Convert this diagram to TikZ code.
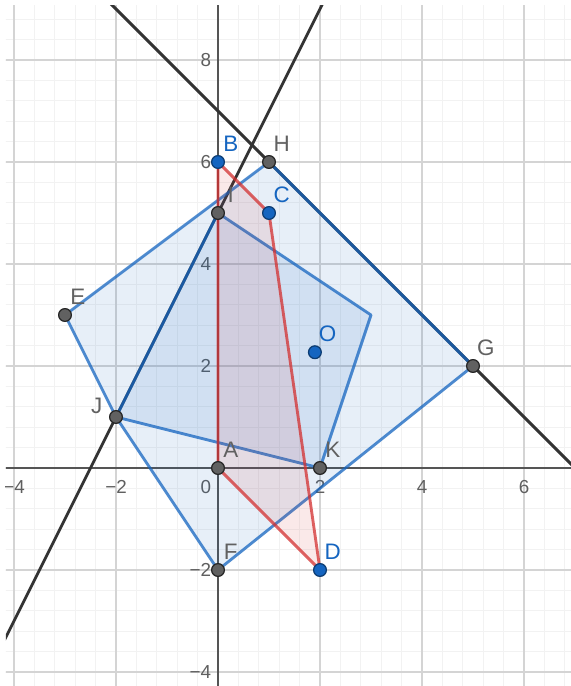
\documentclass[tikz,border=0pt]{standalone}
\usepackage{fontspec}
\setmainfont{Liberation Sans}
\usetikzlibrary{calc}
\definecolor{ggblue}{RGB}{21,101,192}
\definecolor{ggred}{RGB}{211,47,47}
\definecolor{gggray}{RGB}{97,97,97}
\definecolor{ggline}{RGB}{51,51,51}
\definecolor{ggaxis}{RGB}{85,85,85}
\definecolor{ggtext}{RGB}{95,95,95}
\begin{document}
\begin{tikzpicture}[line join = round, line cap = round,
		minorgrid/.style={draw=black!5, line width=0.5pt},
		majorgrid/.style={draw=black!17, line width=0.6pt},
		axisline/.style={draw=ggaxis, line width=0.8pt},
		ticklab/.style={text=ggtext, font=\fontsize{10.5}{11}\selectfont, inner sep=0pt},
		blackline/.style={draw=ggline, line width=1.6pt},
		bluepoly/.style={draw=ggblue, draw opacity=0.75, fill=ggblue, fill opacity=0.1, line width=1.6pt},
		redpoly/.style={draw=ggred, draw opacity=0.75, fill=ggred, fill opacity=0.1, line width=1.6pt},
		graypt/.style={circle, fill=gggray, draw=black!85, line width=0.7pt, inner sep=0pt, minimum size=0.25cm},
		bluept/.style={circle, fill=ggblue, draw=ggblue!60!black, line width=0.7pt, inner sep=0pt, minimum size=0.25cm},
		graylab/.style={text=gggray, font=\fontsize{12.5}{13}\selectfont, inner sep=0pt},
		bluelab/.style={text=ggblue, font=\fontsize{12.5}{13}\selectfont, inner sep=0pt}]
	\useasboundingbox[fill=white] (-4.2745,-4.2745) rectangle (6.9216,9.1765);
	% points
	\coordinate (A) at (0,0);
	\coordinate (B) at (0,6);
	\coordinate (C) at (1,5);
	\coordinate (D) at (2,-2);
	\coordinate (E) at (-3,3);
	\coordinate (F) at (0,-2);
	\coordinate (G) at (5,2);
	\coordinate (H) at (1,6);
	\coordinate (I) at (0,5);
	\coordinate (J) at (-2,1);
	\coordinate (K) at (2,0);
	\coordinate (O) at (1.9,2.27);
	\coordinate (P) at (3,3);
	\begin{scope}
		\clip (-4.157,-4.2745) rectangle (6.9216,9.078);
		\draw[minorgrid, step=0.4] (-4.4,-4.4) grid (7.2,9.2);
		\draw[majorgrid, step=2] (-4.4,-4.4) grid (7.2,9.2);
		\draw[axisline] (-4.4,0) -- (7.2,0);
		\draw[axisline] (0,-4.4) -- (0,9.2);
		\foreach \x/\t [count=\i] in {-4/−4,-2/−2,2/2,4/4,6/6}
			\node[ticklab] (xtick\i) at (\x,-0.37) {\t};
		\foreach \y/\t [count=\i] in {8/8,6/6,4/4,2/2,-2/−2,-4/−4}
			\node[ticklab, anchor=east] (ytick\i) at (-0.13,\y) {\t};
		\node[ticklab] (orig) at (-0.24,-0.37) {0};
		% lines through H,G and J,I
		\draw[blackline] ($(H)!-5!(G)$) -- ($(G)!-5!(H)$);
		\draw[blackline] ($(J)!-5!(I)$) -- ($(I)!-5!(J)$);
		% polygons
		\draw[bluepoly] (E) -- (H) -- (G) -- (F) -- (J) -- cycle;
		\draw[bluepoly] (J) -- (I) -- (P) -- (K) -- cycle;
		\draw[redpoly] (B) -- (C) -- (D) -- (A) -- cycle;
		%\draw (O) circle (4);
	\end{scope}
	\foreach \p in {H,I,E,G,A,K,F}{
		\node[graypt] (pt\p) at (\p) {};
		\node[graylab] (lab\p) at ($(\p)+(0.25,0.36)$) {\p};
	}
	\node[graypt] (ptJ) at (J) {};
	\node[graylab] (labJ) at ($(J)+(-0.38,0.22)$) {J};
	\foreach \p in {B,C,O,D}{
		\node[bluept] (pt\p) at (\p) {};
		\node[bluelab] (lab\p) at ($(\p)+(0.25,0.36)$) {\p};
	}
\end{tikzpicture}
\end{document}
